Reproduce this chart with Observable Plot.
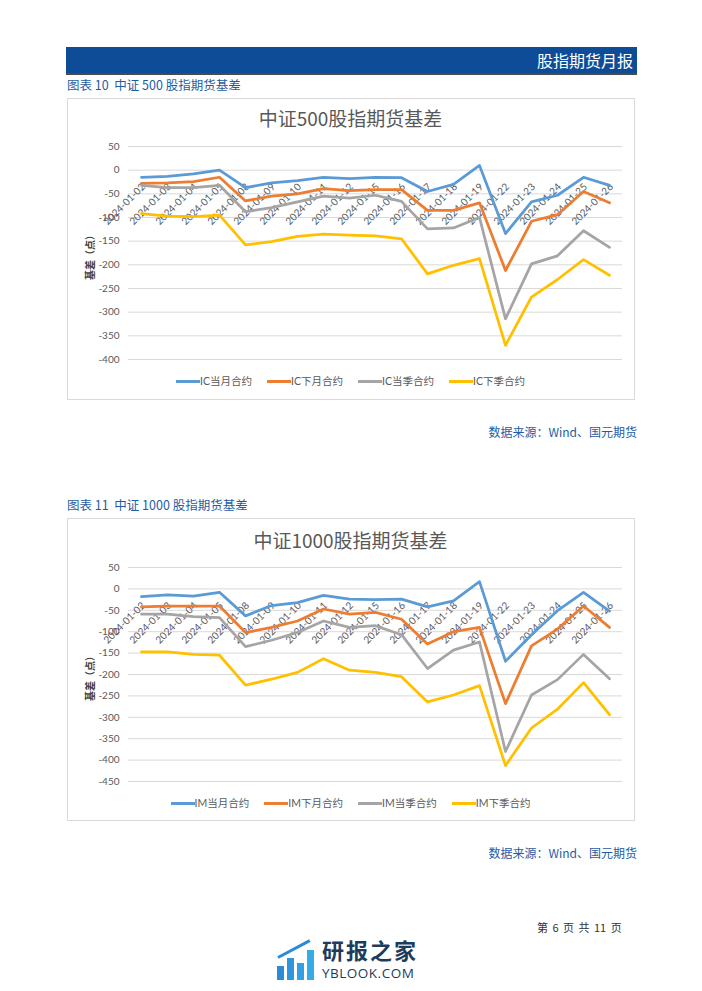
<!DOCTYPE html>
<html><head><meta charset="utf-8">
<script src="https://cdn.jsdelivr.net/npm/d3@7"></script>
<script src="https://cdn.jsdelivr.net/npm/@observablehq/plot@0.6"></script>
<style>
html,body{margin:0;padding:0;background:#fff;}
body{width:702px;height:991px;position:relative;overflow:hidden;font-family:"Noto Sans CJK SC","Noto Sans",sans-serif;}
.abs{position:absolute;}
.header{left:66px;top:47px;width:571px;height:26px;background:#0E4C98;}
.header span{position:absolute;right:4px;top:1px;color:#fff;font-size:16px;line-height:24px;}
.hline{left:66px;top:73px;width:571px;height:2px;background:#4a4a4a;}
.caption{left:67px;font-size:12.5px;color:#1F5CA3;line-height:16px;white-space:nowrap;}
.box{left:67px;width:566px;border:1px solid #D9D9D9;box-sizing:content-box;}
.ctitle{left:67px;width:567px;text-align:center;font-size:19px;color:#595959;line-height:26px;}
.ylab{font-size:10px;font-weight:bold;color:#404040;transform:translate(-50%,-50%) rotate(-90deg);white-space:nowrap;}
.legend{left:67px;width:567px;display:flex;justify-content:center;gap:15px;font-size:10.5px;color:#595959;line-height:14px;font-family:Lato,"Noto Sans CJK SC",sans-serif;}
.legend .it{display:flex;align-items:center;}
.legend .sw{width:24px;height:3px;}
.src{right:65px;font-size:12px;color:#1F5CA3;line-height:16px;white-space:nowrap;}
.page{left:537px;top:919px;font-size:11px;color:#333;white-space:nowrap;word-spacing:2px;}
.plotwrap{left:67px;}
</style>
</head><body>
<div class="abs header"><span>股指期货月报</span></div>
<div class="abs hline"></div>

<div class="abs caption" style="top:77px">图表 10&nbsp; 中证 500 股指期货基差</div>
<div class="abs box" style="top:98px;height:300px"></div>
<div class="abs ctitle" style="top:105px">中证500股指期货基差</div>
<div class="abs plotwrap" id="c1" style="top:98px"></div>
<div class="abs ylab" style="left:89px;top:255px">基差（点）</div>
<div class="abs legend" id="l1" style="top:374px"></div>
<div class="abs src" style="top:424px">数据来源：Wind、国元期货</div>

<div class="abs caption" style="top:497px">图表 11&nbsp; 中证 1000 股指期货基差</div>
<div class="abs box" style="top:518px;height:301px"></div>
<div class="abs ctitle" style="top:527px">中证1000股指期货基差</div>
<div class="abs plotwrap" id="c2" style="top:518px"></div>
<div class="abs ylab" style="left:89px;top:676px">基差（点）</div>
<div class="abs legend" id="l2" style="top:796px"></div>
<div class="abs src" style="top:845px">数据来源：Wind、国元期货</div>

<div class="abs page">第 6 页 共 11 页</div>

<div class="abs" style="left:277px;top:940px;width:44px;height:42px;">
  <div class="abs" style="left:0;bottom:2px;width:7px;height:14px;background:#2B8BD6"></div>
  <div class="abs" style="left:10px;bottom:2px;width:7px;height:22px;background:#2F96DD"></div>
  <div class="abs" style="left:20px;bottom:2px;width:7px;height:17px;background:#33A0E3"></div>
  <div class="abs" style="left:30px;bottom:2px;width:7px;height:30px;background:#37AAE8"></div>
  <div class="abs" style="left:1px;top:16px;width:36px;height:3px;background:#2B8BD6;transform:rotate(-28deg);transform-origin:left center"></div>
</div>
<div class="abs" style="left:322px;top:937px;font-size:22px;line-height:24px;color:#1D3C5C;font-weight:bold;letter-spacing:2px;white-space:nowrap">研报之家</div>
<div class="abs" style="left:322px;top:966px;font-size:13.5px;line-height:14px;color:#1D3C5C;white-space:nowrap;font-family:'Open Sans',sans-serif;letter-spacing:0.5px">YBLOOK.COM</div>

<script>
const dates = ["2024-01-02","2024-01-03","2024-01-04","2024-01-05","2024-01-08","2024-01-09","2024-01-10","2024-01-11","2024-01-12","2024-01-15","2024-01-16","2024-01-17","2024-01-18","2024-01-19","2024-01-22","2024-01-23","2024-01-24","2024-01-25","2024-01-26"];

const icNames = ["IC当月合约","IC下月合约","IC当季合约","IC下季合约"];
const icCur   = [-15,-13,-8,0,-37,-27,-22,-15,-18,-15,-16,-45,-30,10,-134,-67,-53,-15,-32];
const icNext  = [-28,-27,-24,-15,-65,-55,-50,-39,-43,-41,-41,-85,-85,-69,-212,-108,-94,-45,-69];
const icCurQ  = [-32,-37,-37,-32,-88,-79,-67,-55,-59,-53,-66,-124,-122,-100,-314,-198,-181,-128,-163];
const icNextQ = [-92,-97,-98,-95,-158,-151,-140,-135,-137,-139,-145,-219,-201,-187,-370,-268,-231,-189,-222];
const icTicks = [50,0,-50,-100,-150,-200,-250,-300,-350,-400];

const imNames = ["IM当月合约","IM下月合约","IM当季合约","IM下季合约"];
const imCur   = [-18,-14,-17,-8,-63,-39,-32,-15,-24,-25,-24,-42,-28,17,-169,-107,-51,-8,-52];
const imNext  = [-42,-40,-40,-40,-102,-90,-75,-47,-59,-55,-71,-129,-100,-90,-268,-133,-94,-40,-90];
const imCurQ  = [-59,-59,-65,-67,-135,-120,-102,-75,-90,-86,-107,-186,-143,-124,-380,-248,-212,-153,-210];
const imNextQ = [-147,-147,-153,-155,-225,-211,-195,-163,-190,-195,-205,-264,-248,-226,-413,-325,-281,-219,-294];
const imTicks = [50,0,-50,-100,-150,-200,-250,-300,-350,-400,-450];

const colors = ["#5B9BD5","#ED7D31","#A5A5A5","#FFC000"];

function makeChart(names, seriesValues, ticks, H, mt, mb) {
  const rows = [];
  seriesValues.forEach((vals, k) => vals.forEach((v, i) => rows.push({date: dates[i], value: v, name: names[k]})));
  const labelRows = dates.map(d => ({date: d, zero: 0}));
  return Plot.plot({
    width: 567, height: H,
    marginLeft: 61, marginRight: 12, marginTop: mt, marginBottom: mb,
    style: "background:transparent;font-family:Lato,'Noto Sans CJK SC',sans-serif;font-size:10px;color:#595959;overflow:visible;",
    x: {type: "point", domain: dates, padding: 0.5, axis: null},
    y: {domain: [d3.min(ticks), d3.max(ticks)], ticks: ticks, tickSize: 0, tickPadding: 9, tickFormat: d => String(d), label: null},
    color: {domain: names, range: colors},
    marks: [
      Plot.ruleY(ticks, {stroke: "#D9D9D9", strokeWidth: 1}),
      Plot.text(labelRows, {x: "date", y: "zero", text: "date", rotate: -45, textAnchor: "end", dx: 2, dy: 15, fill: "#595959", fontSize: 10}),
      ...names.map(n => Plot.line(rows.filter(r => r.name === n), {x: "date", y: "value", stroke: "name", strokeWidth: 2.75, strokeLinejoin: "round", strokeLinecap: "round"}))
    ]
  });
}

function makeLegend(el, names) {
  names.forEach((n, k) => {
    const it = document.createElement("div"); it.className = "it";
    const sw = document.createElement("div"); sw.className = "sw"; sw.style.background = colors[k];
    const t = document.createElement("span"); t.textContent = n;
    it.appendChild(sw); it.appendChild(t); el.appendChild(it);
  });
}

document.getElementById("c1").appendChild(makeChart(icNames, [icCur, icNext, icCurQ, icNextQ], icTicks, 301, 48, 40));
document.getElementById("c2").appendChild(makeChart(imNames, [imCur, imNext, imCurQ, imNextQ], imTicks, 302, 49, 39));
makeLegend(document.getElementById("l1"), icNames);
makeLegend(document.getElementById("l2"), imNames);
</script>
</body></html>
